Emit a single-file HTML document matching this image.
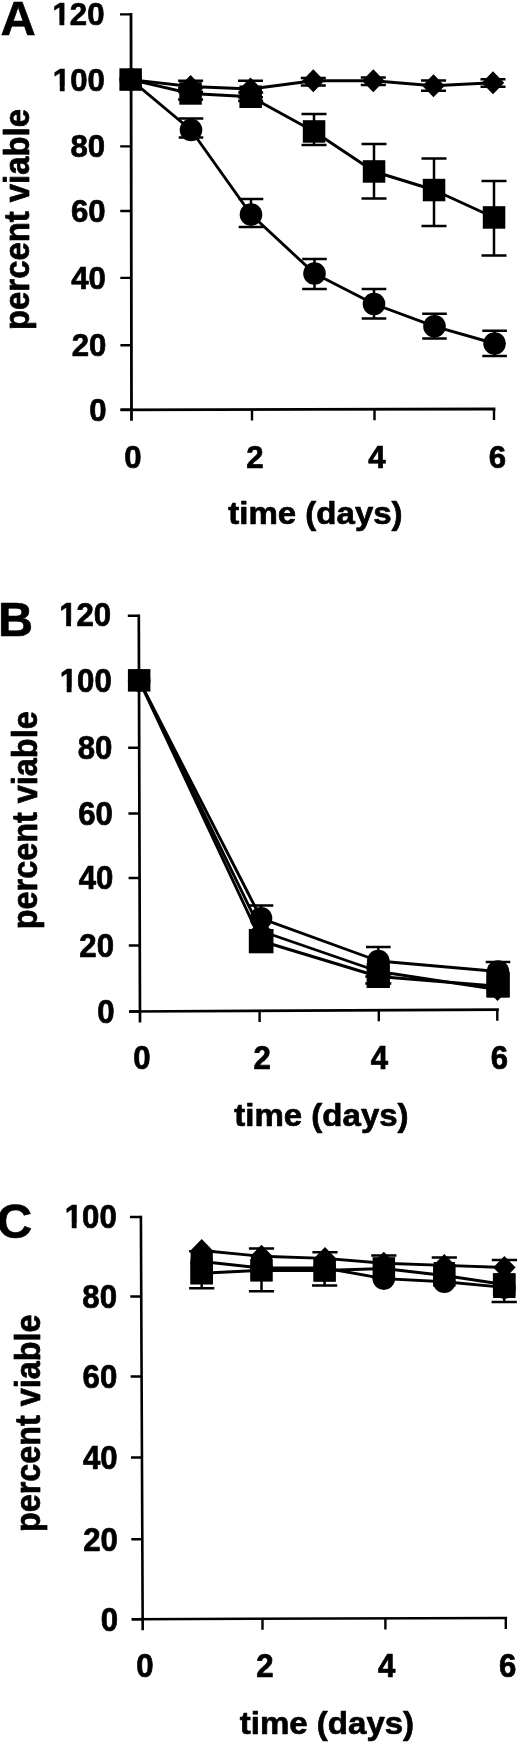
<!DOCTYPE html>
<html><head><meta charset="utf-8"><title>Figure</title>
<style>
html,body{margin:0;padding:0;background:#fff}
svg{display:block}
text{font-family:"Liberation Sans",Arial,Helvetica,sans-serif;font-weight:bold;fill:#050505;stroke:#050505;stroke-width:0.7px;stroke-linejoin:round}
</style></head><body>
<svg width="520" height="1743" viewBox="0 0 520 1743">
<defs><filter id="soft" x="0" y="0" width="520" height="1743" filterUnits="userSpaceOnUse"><feGaussianBlur stdDeviation="0.45"/></filter></defs>
<rect width="520" height="1743" fill="#fff"/>
<g filter="url(#soft)">
<path d="M131.0 13.0L131.5 420.8M120.5 409.8L495.4 409" stroke="#050505" stroke-width="2.8" fill="none"/>
<path d="M120.00 14.4H131.00M120.08 80H131.08M120.17 146.4H131.17M120.25 211H131.25M120.33 277.9H131.33M120.42 345.3H131.42M120.50 409.8H131.50M252 409.53V420.53M374.5 409.26V420.26M494 409.00V420.00" stroke="#050505" stroke-width="2.4" fill="none"/>
<text x="104.50" y="25.27" font-size="31.2" text-anchor="end">120</text>
<rect x="53.21" y="20.69" width="6.22" height="5.78" fill="#fff"/>
<rect x="64.31" y="20.69" width="5.52" height="5.78" fill="#fff"/>
<text x="104.87" y="90.89" font-size="31.2" text-anchor="end">100</text>
<rect x="53.58" y="86.30" width="6.22" height="5.78" fill="#fff"/>
<rect x="64.67" y="86.30" width="5.52" height="5.78" fill="#fff"/>
<text x="105.23" y="157.30" font-size="31.2" text-anchor="end">80</text>
<text x="105.60" y="221.92" font-size="31.2" text-anchor="end">60</text>
<text x="105.97" y="288.84" font-size="31.2" text-anchor="end">40</text>
<text x="106.33" y="356.25" font-size="31.2" text-anchor="end">20</text>
<text x="106.70" y="420.77" font-size="31.2" text-anchor="end">0</text>
<text x="133.00" y="468.3" font-size="31.2" text-anchor="middle">0</text>
<text x="255.00" y="468.3" font-size="31.2" text-anchor="middle">2</text>
<text x="377.00" y="468.3" font-size="31.2" text-anchor="middle">4</text>
<text x="497.50" y="468.3" font-size="31.2" text-anchor="middle">6</text>
<text x="228.3" y="524.2" font-size="32" text-anchor="start" textLength="174.3" lengthAdjust="spacingAndGlyphs">time (days)</text>
<text transform="translate(28.8 330) rotate(-90) scale(1 1.06)" font-size="33" textLength="221" lengthAdjust="spacingAndGlyphs">percent viable</text>
<text x="0.4" y="34.7" font-size="48.8" text-anchor="start">A</text>
<polyline points="130.7,79.6 190.6,86.5 250.5,89 313.3,80.8 373.3,80.8 433.5,85.7 493,82.7" fill="none" stroke="#050505" stroke-width="2.9" stroke-linejoin="round"/>
<polyline points="130.7,79.6 190.6,93.5 250.7,96.7 314,131.5 374,171.5 434,190 494,217.5" fill="none" stroke="#050505" stroke-width="2.9" stroke-linejoin="round"/>
<polyline points="130.7,79.6 191,130 251,214.5 314.5,273.5 374,304 434.5,326.3 494.6,343.5" fill="none" stroke="#050505" stroke-width="2.9" stroke-linejoin="round"/>
<path d="M190.6 80.7V92M178.1 80.7H203.1M178.1 92H203.1M250.5 80.7V97.2M238.0 80.7H263.0M238.0 97.2H263.0M313.3 78V85.5M300.8 78H325.8M300.8 85.5H325.8M373.3 77.4V85M360.8 77.4H385.8M360.8 85H385.8M433.5 80.4V90.8M421.0 80.4H446.0M421.0 90.8H446.0M493 79.2V86.8M480.5 79.2H505.5M480.5 86.8H505.5M190.6 88V99.5M178.1 88H203.1M178.1 99.5H203.1M250.7 92.5V101M238.2 92.5H263.2M238.2 101H263.2M314 114V145M301.5 114H326.5M301.5 145H326.5M374 144V198.5M361.5 144H386.5M361.5 198.5H386.5M434 158.5V226M421.5 158.5H446.5M421.5 226H446.5M494 181V255.5M481.5 181H506.5M481.5 255.5H506.5M191 118.5V137.5M178.7 118.5H203.3M178.7 137.5H203.3M251 199V227M238.7 199H263.3M238.7 227H263.3M314.5 259V289M302.2 259H326.8M302.2 289H326.8M374 289V318.5M361.7 289H386.3M361.7 318.5H386.3M434.5 313.8V338.4M422.2 313.8H446.8M422.2 338.4H446.8M494.6 330.7V355.9M482.3 330.7H506.90000000000003M482.3 355.9H506.90000000000003" stroke="#050505" stroke-width="2.5" fill="none"/>
<path d="M119.5 79.6L130.7 68.1L141.9 79.6L130.7 91.1Z" fill="#050505"/>
<path d="M179.4 86.5L190.6 75.0L201.8 86.5L190.6 98.0Z" fill="#050505"/>
<path d="M239.3 89L250.5 77.5L261.7 89L250.5 100.5Z" fill="#050505"/>
<path d="M302.1 80.8L313.3 69.3L324.5 80.8L313.3 92.3Z" fill="#050505"/>
<path d="M362.1 80.8L373.3 69.3L384.5 80.8L373.3 92.3Z" fill="#050505"/>
<path d="M422.3 85.7L433.5 74.2L444.7 85.7L433.5 97.2Z" fill="#050505"/>
<path d="M481.8 82.7L493 71.2L504.2 82.7L493 94.2Z" fill="#050505"/>
<rect x="119.4" y="68.3" width="22.5" height="22.5" fill="#050505"/>
<rect x="179.3" y="82.2" width="22.5" height="22.5" fill="#050505"/>
<rect x="239.4" y="85.5" width="22.5" height="22.5" fill="#050505"/>
<rect x="302.8" y="120.2" width="22.5" height="22.5" fill="#050505"/>
<rect x="362.8" y="160.2" width="22.5" height="22.5" fill="#050505"/>
<rect x="422.8" y="178.8" width="22.5" height="22.5" fill="#050505"/>
<rect x="482.8" y="206.2" width="22.5" height="22.5" fill="#050505"/>
<circle cx="130.7" cy="79.6" r="11.3" fill="#050505"/>
<circle cx="191" cy="130" r="11.3" fill="#050505"/>
<circle cx="251" cy="214.5" r="11.3" fill="#050505"/>
<circle cx="314.5" cy="273.5" r="11.3" fill="#050505"/>
<circle cx="374" cy="304" r="11.3" fill="#050505"/>
<circle cx="434.5" cy="326.3" r="11.3" fill="#050505"/>
<circle cx="494.6" cy="343.5" r="11.3" fill="#050505"/>
<path d="M138.8 614.4499999999999L140 1022.5M129 1011.5L498.85 1009.7" stroke="#050505" stroke-width="2.7" fill="none"/>
<path d="M127.80 615.8H138.80M128.00 681.5H139.00M128.20 747.8H139.20M128.40 813.5H139.40M128.60 878H139.60M128.80 945.5H139.80M129.00 1011.5H140.00M259.6 1010.90V1021.90M378.8 1010.30V1021.30M497.3 1009.70V1020.70" stroke="#050505" stroke-width="2.4" fill="none"/>
<text transform="translate(111.20 626.47) scale(1 1.045)" font-size="31.2" text-anchor="end">120</text>
<rect x="59.91" y="621.74" width="6.22" height="5.93" fill="#fff"/>
<rect x="71.01" y="621.74" width="5.52" height="5.93" fill="#fff"/>
<text transform="translate(111.77 692.31) scale(1 1.045)" font-size="31.2" text-anchor="end">100</text>
<rect x="60.48" y="687.58" width="6.22" height="5.93" fill="#fff"/>
<rect x="71.57" y="687.58" width="5.52" height="5.93" fill="#fff"/>
<text transform="translate(112.33 758.74) scale(1 1.045)" font-size="31.2" text-anchor="end">80</text>
<text transform="translate(112.90 824.57) scale(1 1.045)" font-size="31.2" text-anchor="end">60</text>
<text transform="translate(113.47 889.21) scale(1 1.045)" font-size="31.2" text-anchor="end">40</text>
<text transform="translate(114.03 956.84) scale(1 1.045)" font-size="31.2" text-anchor="end">20</text>
<text transform="translate(114.60 1022.97) scale(1 1.045)" font-size="31.2" text-anchor="end">0</text>
<text transform="translate(142.00 1069) scale(1 1.045)" font-size="31.2" text-anchor="middle">0</text>
<text transform="translate(262.30 1069) scale(1 1.045)" font-size="31.2" text-anchor="middle">2</text>
<text transform="translate(379.50 1069) scale(1 1.045)" font-size="31.2" text-anchor="middle">4</text>
<text transform="translate(499.50 1069) scale(1 1.045)" font-size="31.2" text-anchor="middle">6</text>
<text x="234.3" y="1125.6" font-size="32" text-anchor="start" textLength="174.3" lengthAdjust="spacingAndGlyphs">time (days)</text>
<text transform="translate(37.3 929.3) rotate(-90) scale(1 1.06)" font-size="33" textLength="218" lengthAdjust="spacingAndGlyphs">percent viable</text>
<text x="-2.0" y="636.3" font-size="48.5" text-anchor="start">B</text>
<polyline points="139.2,680.4 261,918.3 378.3,961 498,971.5" fill="none" stroke="#050505" stroke-width="2.9" stroke-linejoin="round"/>
<polyline points="139.2,680.4 261,931 378.3,971.5 497.5,989.6" fill="none" stroke="#050505" stroke-width="2.9" stroke-linejoin="round"/>
<polyline points="139.2,680.4 261.2,941 378.3,976.5 498,986.3" fill="none" stroke="#050505" stroke-width="2.9" stroke-linejoin="round"/>
<path d="M261 905.6V918.3M248.7 905.6H273.3M378.3 947V961M366.0 947H390.6M498 962V971.5M485.7 962H510.3M378.3 971.5V976.5M365.3 976.5H391.3M378.3 976.5V983.5M365.3 983.5H391.3" stroke="#050505" stroke-width="2.5" fill="none"/>
<circle cx="139.2" cy="680.4" r="11.3" fill="#050505"/>
<circle cx="261" cy="918.3" r="11.3" fill="#050505"/>
<circle cx="378.3" cy="961" r="11.3" fill="#050505"/>
<circle cx="498" cy="971.5" r="11.3" fill="#050505"/>
<path d="M128.0 680.4L139.2 668.9L150.4 680.4L139.2 691.9Z" fill="#050505"/>
<path d="M249.8 931L261 919.5L272.2 931L261 942.5Z" fill="#050505"/>
<path d="M367.1 971.5L378.3 960.0L389.5 971.5L378.3 983.0Z" fill="#050505"/>
<path d="M486.3 989.6L497.5 978.1L508.7 989.6L497.5 1001.1Z" fill="#050505"/>
<rect x="127.9" y="669.1" width="22.5" height="22.5" fill="#050505"/>
<rect x="249.9" y="929.8" width="22.5" height="22.5" fill="#050505"/>
<rect x="367.1" y="965.2" width="22.5" height="22.5" fill="#050505"/>
<rect x="486.8" y="975.0" width="22.5" height="22.5" fill="#050505"/>
<rect x="248.8" y="929" width="24.7" height="24.3" fill="#050505"/>
<rect x="366.6" y="963" width="23.2" height="25" fill="#050505"/>
<rect x="486.3" y="972" width="23.5" height="25.4" fill="#050505"/>
<path d="M140.9 1215.7L142.7 1630.2M131.7 1619.2L507.1 1618" stroke="#050505" stroke-width="2.6" fill="none"/>
<path d="M129.90 1217H140.90M130.26 1296.5H141.26M130.61 1376.5H141.61M130.98 1457.5H141.98M131.34 1539.3H142.34M131.70 1619.2H142.70M262.5 1618.80V1629.80M385.4 1618.40V1629.40M505.8 1618.00V1629.00" stroke="#050505" stroke-width="2.4" fill="none"/>
<text transform="translate(116.80 1228.07) scale(1 1.045)" font-size="31.2" text-anchor="end">100</text>
<rect x="65.51" y="1223.34" width="6.22" height="5.93" fill="#fff"/>
<rect x="76.61" y="1223.34" width="5.52" height="5.93" fill="#fff"/>
<text transform="translate(117.06 1307.65) scale(1 1.045)" font-size="31.2" text-anchor="end">80</text>
<text transform="translate(117.32 1387.73) scale(1 1.045)" font-size="31.2" text-anchor="end">60</text>
<text transform="translate(117.58 1468.81) scale(1 1.045)" font-size="31.2" text-anchor="end">40</text>
<text transform="translate(117.84 1550.69) scale(1 1.045)" font-size="31.2" text-anchor="end">20</text>
<text transform="translate(118.10 1630.67) scale(1 1.045)" font-size="31.2" text-anchor="end">0</text>
<text transform="translate(145.00 1676.5) scale(1 1.045)" font-size="31.2" text-anchor="middle">0</text>
<text transform="translate(265.00 1676.5) scale(1 1.045)" font-size="31.2" text-anchor="middle">2</text>
<text transform="translate(386.70 1676.5) scale(1 1.045)" font-size="31.2" text-anchor="middle">4</text>
<text transform="translate(507.70 1676.5) scale(1 1.045)" font-size="31.2" text-anchor="middle">6</text>
<text x="239.8" y="1733.6" font-size="32" text-anchor="start" textLength="174.3" lengthAdjust="spacingAndGlyphs">time (days)</text>
<text transform="translate(39.8 1532) rotate(-90) scale(1 1.06)" font-size="33" textLength="217.5" lengthAdjust="spacingAndGlyphs">percent viable</text>
<text x="-3.2" y="1238.2" font-size="49" text-anchor="start">C</text>
<polyline points="201.7,1250.5 261.5,1256.3 325,1258.4 383.8,1263.3 444.3,1265.4 504.4,1267.5" fill="none" stroke="#050505" stroke-width="2.9" stroke-linejoin="round"/>
<polyline points="201.7,1261.5 261.5,1268 324.6,1268 383.8,1278.6 444.3,1281.8 504.4,1287.4" fill="none" stroke="#050505" stroke-width="2.9" stroke-linejoin="round"/>
<polyline points="201.7,1273.2 261.5,1270.3 324.6,1270.5 383.8,1268.5 444.3,1275.5 504.2,1284.5" fill="none" stroke="#050505" stroke-width="2.9" stroke-linejoin="round"/>
<path d="M201.7 1251.3V1250.5M189.1 1251.3H214.29999999999998M261.5 1248.6V1256.3M248.9 1248.6H274.1M325 1252.2V1258.4M312.4 1252.2H337.6M383.8 1255.4V1263.3M371.2 1255.4H396.40000000000003M444.3 1257.5V1265.4M431.7 1257.5H456.90000000000003M504.4 1260V1267.5M491.79999999999995 1260H517.0M201.7 1273.2V1288.3M189.1 1288.3H214.29999999999998M261.5 1270.3V1291.3M248.9 1291.3H274.1M324.6 1270.5V1285.4M312.0 1285.4H337.20000000000005M504.2 1284.5V1302M491.59999999999997 1302H516.8" stroke="#050505" stroke-width="2.5" fill="none"/>
<path d="M190.5 1250.5L201.7 1239.0L212.9 1250.5L201.7 1262.0Z" fill="#050505"/>
<path d="M250.3 1256.3L261.5 1244.8L272.7 1256.3L261.5 1267.8Z" fill="#050505"/>
<path d="M313.8 1258.4L325 1246.9L336.2 1258.4L325 1269.9Z" fill="#050505"/>
<path d="M372.6 1263.3L383.8 1251.8L395.0 1263.3L383.8 1274.8Z" fill="#050505"/>
<path d="M433.1 1265.4L444.3 1253.9L455.5 1265.4L444.3 1276.9Z" fill="#050505"/>
<path d="M493.2 1267.5L504.4 1256.0L515.6 1267.5L504.4 1279.0Z" fill="#050505"/>
<circle cx="201.7" cy="1261.5" r="11.3" fill="#050505"/>
<circle cx="261.5" cy="1268" r="11.3" fill="#050505"/>
<circle cx="324.6" cy="1268" r="11.3" fill="#050505"/>
<circle cx="383.8" cy="1278.6" r="11.3" fill="#050505"/>
<circle cx="444.3" cy="1281.8" r="11.3" fill="#050505"/>
<circle cx="504.4" cy="1287.4" r="11.3" fill="#050505"/>
<rect x="190.4" y="1262.0" width="22.5" height="22.5" fill="#050505"/>
<rect x="250.2" y="1259.0" width="22.5" height="22.5" fill="#050505"/>
<rect x="313.4" y="1259.2" width="22.5" height="22.5" fill="#050505"/>
<rect x="372.6" y="1257.2" width="22.5" height="22.5" fill="#050505"/>
<rect x="433.1" y="1264.2" width="22.5" height="22.5" fill="#050505"/>
<rect x="492.9" y="1273.2" width="22.5" height="22.5" fill="#050505"/>
<rect x="190.6" y="1251" width="22.2" height="33" fill="#050505"/>
<rect x="250.9" y="1256" width="21.3" height="25.2" fill="#050505"/>
<rect x="313.7" y="1258" width="21.4" height="23.4" fill="#050505"/>
<rect x="373.5" y="1258" width="20.7" height="22" fill="#050505"/>
<rect x="433.7" y="1262" width="21.2" height="22" fill="#050505"/>
<rect x="493.1" y="1273.5" width="22.4" height="24.5" fill="#050505"/>
</g>
</svg>
</body></html>
